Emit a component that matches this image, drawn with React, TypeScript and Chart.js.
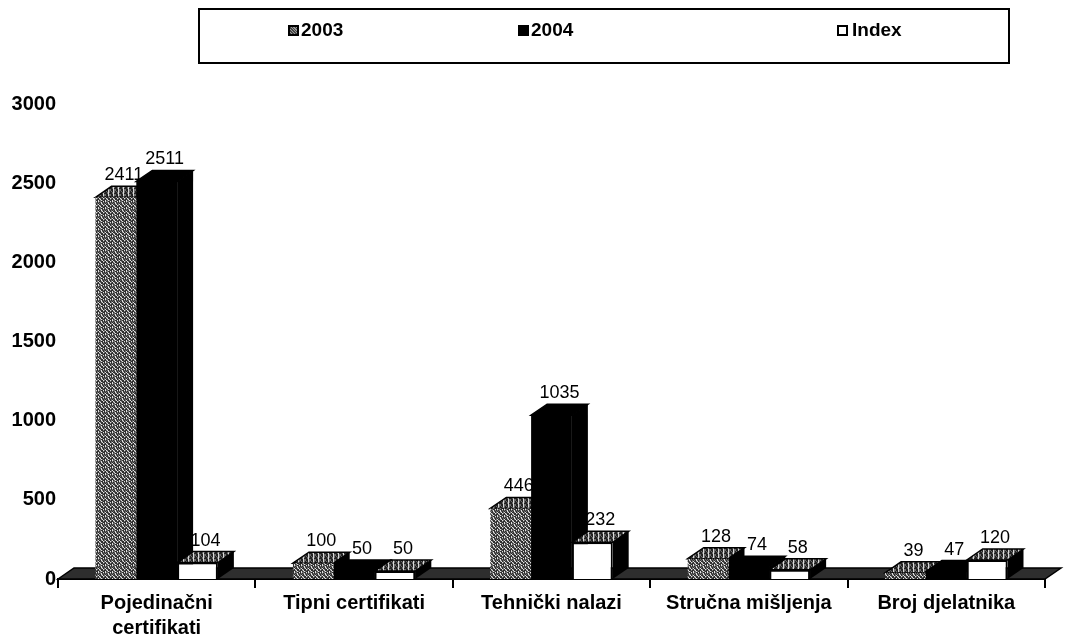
import { useEffect, useRef } from "react";
import { Chart, registerables } from "chart.js";

Chart.register(...registerables);

const categories: (string | string[])[] = [
  ["Pojedinačni", "certifikati"],
  "Tipni certifikati",
  "Tehnički nalazi",
  "Stručna mišljenja",
  "Broj djelatnika",
];
const seriesNames = ["2003", "2004", "Index"];
const values2003 = [2411, 100, 446, 128, 39];
const values2004 = [2511, 50, 1035, 74, 47];
const valuesIndex = [104, 50, 232, 58, 120];
const yMin = 0;
const yMax = 3000;
const yStep = 500;

const FONT = '"Liberation Sans", Arial, sans-serif';
const DX = 16;
const DY = 11;

function makePattern(codes: string, palette: string[]): CanvasPattern | string {
  const size = Math.round(Math.sqrt(codes.length));
  const c = document.createElement("canvas");
  c.width = size;
  c.height = size;
  const ctx = c.getContext("2d");
  if (!ctx) return palette[1];
  for (let i = 0; i < size * size; i++) {
    ctx.fillStyle = palette[Number(codes[i])];
    ctx.fillRect(i % size, Math.floor(i / size), 1, 1);
  }
  const p = ctx.createPattern(c, "repeat");
  return p || palette[1];
}

export default function App() {
  const canvasRef = useRef<HTMLCanvasElement | null>(null);

  useEffect(() => {
    const canvas = canvasRef.current;
    if (!canvas) return;

    const grayFront = makePattern(
      "2120121022102120122012102212021012201122021210212",
      ["#e0e0e0", "#6e6e6e", "#2e2e2e"]
    );
    const grayTop = makePattern(
      "1220121201221012210212201",
      ["#d8d8d8", "#6a6a6a", "#222222"]
    );
    const topColors = [grayTop, "#000000", grayTop];

    const threeD = {
      id: "threeD",
      beforeDatasetsDraw(chart: any) {
        const ctx = chart.ctx;
        const a = chart.chartArea;
        const b = a.bottom;
        ctx.save();
        ctx.beginPath();
        ctx.moveTo(a.left, b);
        ctx.lineTo(a.left + DX, b - DY);
        ctx.lineTo(a.right + DX, b - DY);
        ctx.lineTo(a.right, b);
        ctx.closePath();
        ctx.fillStyle = "#2e2e2e";
        ctx.fill();
        ctx.lineWidth = 1.5;
        ctx.strokeStyle = "#000";
        ctx.stroke();
        const n = chart.data.labels.length;
        for (let i = 0; i < n; i++) {
          for (let d = 0; d < chart.data.datasets.length; d++) {
            const el = chart.getDatasetMeta(d).data[i];
            if (!el) continue;
            const { x, y, base, width } = el.getProps(["x", "y", "base", "width"], true);
            const x1 = x - width / 2;
            const x2 = x + width / 2;
            ctx.beginPath();
            ctx.moveTo(x2, y);
            ctx.lineTo(x2 + DX, y - DY);
            ctx.lineTo(x2 + DX, base - DY);
            ctx.lineTo(x2, base);
            ctx.closePath();
            ctx.fillStyle = "#000";
            ctx.fill();
            ctx.beginPath();
            ctx.moveTo(x1, y);
            ctx.lineTo(x1 + DX, y - DY);
            ctx.lineTo(x2 + DX, y - DY);
            ctx.lineTo(x2, y);
            ctx.closePath();
            ctx.fillStyle = topColors[d] as any;
            ctx.fill();
            ctx.lineWidth = 1.5;
            ctx.strokeStyle = "#000";
            ctx.stroke();
          }
        }
        ctx.restore();
      },
      afterDatasetsDraw(chart: any) {
        const ctx = chart.ctx;
        ctx.save();
        ctx.font = `18px ${FONT}`;
        ctx.fillStyle = "#000";
        ctx.textAlign = "center";
        ctx.textBaseline = "bottom";
        chart.data.datasets.forEach((ds: any, d: number) => {
          chart.getDatasetMeta(d).data.forEach((el: any, i: number) => {
            const { x, y } = el.getProps(["x", "y"], true);
            ctx.fillText(String(ds.data[i]), x + DX / 2, y - DY - 2);
          });
        });
        ctx.restore();
      },
    };

    const chart = new Chart(canvas, {
      type: "bar",
      data: {
        labels: categories as any,
        datasets: [
          { label: seriesNames[0], data: values2003, backgroundColor: grayFront as any, borderWidth: 0 },
          { label: seriesNames[1], data: values2004, backgroundColor: "#000000", borderWidth: 0 },
          {
            label: seriesNames[2],
            data: valuesIndex,
            backgroundColor: "#ffffff",
            borderColor: "#000000",
            borderWidth: 2,
          },
        ],
      },
      options: {
        responsive: false,
        animation: false,
        layout: { padding: { top: 104, right: 28, left: 0, bottom: 0 } },
        plugins: { legend: { display: false }, tooltip: { enabled: false } },
        datasets: { bar: { categoryPercentage: 0.62, barPercentage: 1 } },
        scales: {
          x: {
            grid: {
              display: true,
              drawOnChartArea: false,
              drawTicks: true,
              tickLength: 9,
              color: "#000",
              lineWidth: 2,
              offset: true,
            },
            border: { display: true, color: "#000", width: 2 },
            ticks: {
              color: "#000",
              font: { family: FONT, size: 20, weight: "bold", lineHeight: 1.25 },
              padding: 3,
              autoSkip: false,
              maxRotation: 0,
            },
            afterFit: (s: any) => {
              s.height = 64;
            },
          },
          y: {
            min: yMin,
            max: yMax,
            ticks: {
              stepSize: yStep,
              color: "#000",
              font: { family: FONT, size: 20, weight: "bold" },
              padding: 2,
              callback: (v: any) => String(v),
            },
            grid: { display: false, drawTicks: false },
            border: { display: false },
            afterFit: (s: any) => {
              s.width = 58;
            },
          },
        },
      },
      plugins: [threeD],
    });

    return () => chart.destroy();
  }, []);

  const legendText: React.CSSProperties = {
    position: "absolute",
    top: 19,
    font: `bold 19px ${FONT}`,
    lineHeight: "22px",
    color: "#000",
    whiteSpace: "nowrap",
  };
  const sq = (left: number, bg: string): React.CSSProperties => ({
    position: "absolute",
    left,
    top: 25,
    width: 11,
    height: 11,
    boxSizing: "border-box",
    border: "2px solid #000",
    background: bg,
  });

  return (
    <div style={{ position: "fixed", left: 0, top: 0, width: 1073, height: 643, background: "#fff" }}>
      <canvas ref={canvasRef} width={1073} height={643} style={{ display: "block", width: 1073, height: 643 }} />
      <div
        style={{
          position: "absolute",
          left: 198,
          top: 8,
          width: 812,
          height: 56,
          boxSizing: "border-box",
          border: "2px solid #000",
        }}
      />
      <div style={sq(288, "repeating-linear-gradient(45deg,#444 0 1px,#999 1px 2px)")} />
      <div style={{ ...legendText, left: 301 }}>{seriesNames[0]}</div>
      <div style={sq(518, "#000")} />
      <div style={{ ...legendText, left: 531 }}>{seriesNames[1]}</div>
      <div style={sq(837, "#fff")} />
      <div style={{ ...legendText, left: 852 }}>{seriesNames[2]}</div>
    </div>
  );
}
